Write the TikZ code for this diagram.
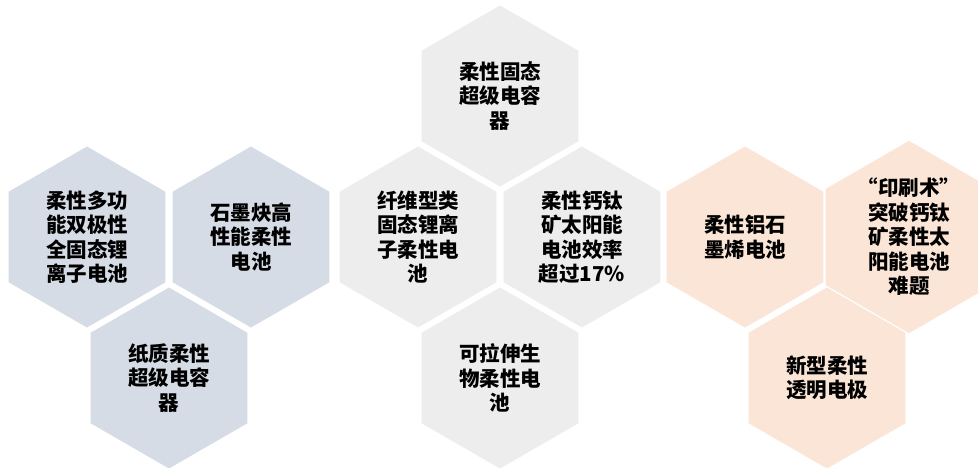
\documentclass[tikz,border=0pt]{standalone}
\usepackage{fontspec}
\setmainfont{Noto Sans CJK SC}
\usetikzlibrary{shapes.geometric}
\definecolor{hexblue}{HTML}{D6DCE5}
\definecolor{hexgray}{HTML}{EDEDED}
\definecolor{hexpeach}{HTML}{FBE5D6}
\tikzset{
  hexbase/.style={regular polygon, regular polygon sides=6, shape border rotate=30,
    minimum size=181pt, inner sep=0pt, draw=none, align=center,
    font=\fontsize{20.5}{24.5}\selectfont\bfseries, text=black},
  hexL/.style={hexbase, fill=hexblue},
  hexM/.style={hexbase, fill=hexgray},
  hexR/.style={hexbase, fill=hexpeach},
}
\begin{document}
\begin{tikzpicture}[x=1pt,y=-1pt]
\useasboundingbox (0,0) rectangle (978,467);
\fill[white] (0,0) rectangle (978,467);
\begin{scope}
\clip (0,0) rectangle (978,467);
% left group
\node[hexL] (h1) at (87,237) {柔性多功\\能双极性\\全固态锂\\离子电池};
\node[hexL] (h2) at (251,237) {石墨炔高\\性能柔性\\电池};
\node[hexL] (h3) at (169,378) {纸质柔性\\超级电容\\器};
% middle group
\node[hexM] (m1) at (500,96) {柔性固态\\超级电容\\器};
\node[hexM] (m2) at (418,237) {纤维型类\\固态锂离\\子柔性电\\池};
\node[hexM] (m3) at (582,237) {柔性钙钛\\矿太阳能\\电池效率\\超过17\%};
\node[hexM] (m4) at (500,378) {可拉伸生\\物柔性电\\池};
% right group
\node[hexR] (r1) at (745,237) {柔性铝石\\墨烯电池};
\node[hexR] (r2) at (909,237) {“印刷术”\\突破钙钛\\矿柔性太\\阳能电池\\难题};
\node[hexR] (r3) at (827,378) {新型柔性\\透明电极};
\end{scope}
\end{tikzpicture}
\end{document}
